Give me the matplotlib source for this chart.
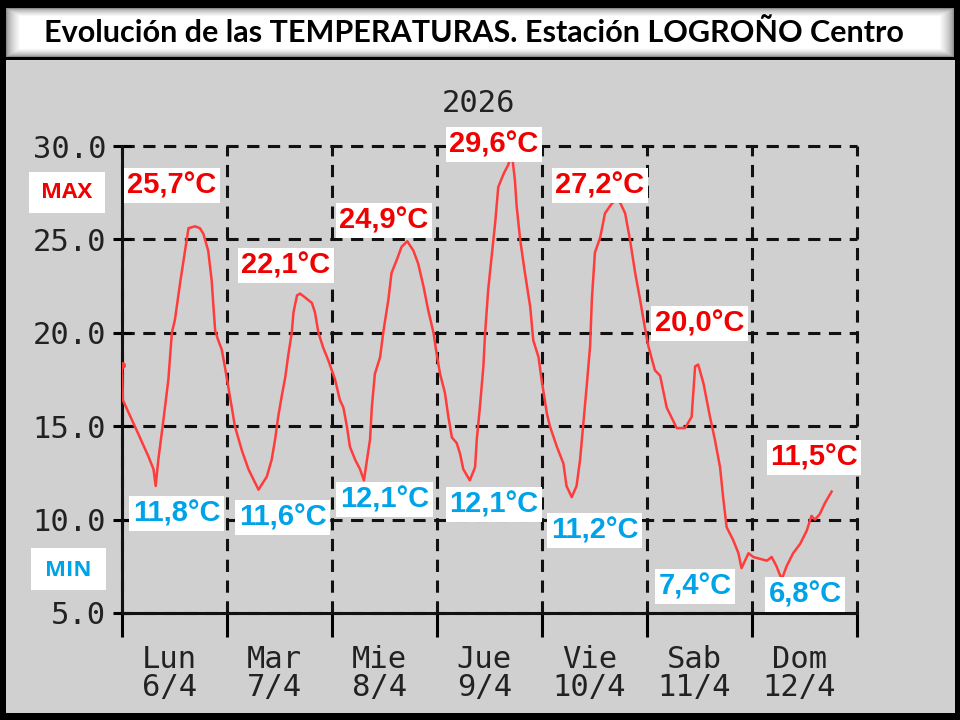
import numpy as np
import matplotlib
matplotlib.use("Agg")
import matplotlib.pyplot as plt
from matplotlib.patches import Rectangle

# hours since Lun 6/4 00:00 and temperature (C)
hours = [0.0, 0.2, 3.7, 6.0, 7.2, 7.7, 8.3, 9.4, 10.6, 11.4, 12.1, 13.3, 14.4, 15.2,
         16.7, 17.8, 18.6, 19.7, 20.5, 20.9, 21.3, 22.0, 22.8, 23.5,
         24.3, 25.1, 25.8, 27.4, 28.9, 31.2, 33.1, 34.2, 35.0, 35.7, 36.5, 37.3,
         38.0, 38.8, 39.2, 40.0, 40.7, 41.8, 43.4, 44.1, 44.9, 46.0, 47.2, 48.7,
         49.8, 50.6, 51.4, 52.1, 53.3, 54.4, 55.3, 56.7, 57.1, 57.8, 59.0, 59.7,
         60.9, 61.6, 62.8, 63.9, 65.2, 66.6, 67.7, 68.9, 70.0, 71.2, 71.9, 72.7,
         73.8, 74.6, 75.4, 76.5, 77.3, 78.0, 79.5, 80.7, 81.1, 81.8, 82.6, 83.0,
         83.7, 84.5, 85.3, 86.0, 87.2, 88.3, 89.1, 89.8, 90.2, 91.0, 92.1, 93.3,
         94.0, 95.2, 95.9, 97.1, 97.8, 99.4, 100.9, 101.6, 102.8, 103.9, 104.7,
         105.4, 106.2, 107.0, 107.4, 108.1, 109.3, 110.4, 111.9, 113.4, 115.0,
         116.1, 117.3, 118.4, 119.5, 120.3, 121.8, 123.0, 124.5, 126.8, 128.7,
         130.2, 131.0, 131.7, 132.9, 134.4, 135.5, 136.7, 137.4, 138.2, 139.7,
         140.9, 141.6, 142.4, 143.2, 144.3, 145.8, 147.4, 148.5, 149.6, 150.8,
         151.9, 153.4, 155.0, 156.5, 157.6, 158.4, 159.5, 160.7, 162.2]
temps = [18.3, 16.4, 14.6, 13.4, 12.7, 11.8, 13.2, 15.2, 17.5, 20.0, 20.7, 22.7, 24.4, 25.6,
         25.7, 25.6, 25.3, 24.4, 22.8, 21.4, 20.1, 19.6, 19.1, 18.2,
         17.1, 16.0, 15.0, 13.7, 12.7, 11.6, 12.3, 13.2, 14.3, 15.5, 16.6, 17.6,
         18.8, 20.0, 21.1, 22.0, 22.1, 21.9, 21.6, 21.1, 20.0, 19.2, 18.5, 17.5,
         16.4, 16.0, 15.0, 13.9, 13.2, 12.7, 12.1, 14.3, 16.0, 17.8, 18.7, 20.0,
         21.8, 23.2, 23.9, 24.6, 24.9, 24.4, 23.7, 22.5, 21.2, 20.0, 18.9, 17.8,
         16.8, 15.5, 14.4, 14.1, 13.5, 12.7, 12.1, 12.8, 14.3, 16.0, 18.2, 20.0,
         22.3, 24.1, 25.9, 27.8, 28.5, 29.0, 29.6, 28.2, 26.8, 25.0, 23.2, 21.4,
         19.6, 18.7, 17.5, 15.7, 15.0, 13.9, 13.0, 11.8, 11.2, 11.8, 13.2,
         15.0, 17.1, 19.3, 21.8, 24.3, 25.1, 26.4, 26.9, 27.2, 26.4,
         25.0, 23.2, 21.8, 20.3, 19.3, 18.0, 17.7, 16.0, 14.9, 14.9,
         15.5, 18.2, 18.3, 17.3, 15.5, 14.3, 12.8, 11.2, 9.6, 8.9,
         8.2, 7.4, 7.8, 8.2, 8.0, 7.9, 7.8, 8.0, 7.5, 6.8,
         7.5, 8.2, 8.7, 9.4, 10.2, 10.0, 10.3, 10.9, 11.5]

day_names = ["Lun", "Mar", "Mie", "Jue", "Vie", "Sab", "Dom"]
day_dates = ["6/4", "7/4", "8/4", "9/4", "10/4", "11/4", "12/4"]
y_ticks = [5.0, 10.0, 15.0, 20.0, 25.0, 30.0]

max_values = [25.7, 22.1, 24.9, 29.6, 27.2, 20.0, 11.5]
min_values = [11.8, 11.6, 12.1, 12.1, 11.2, 7.4, 6.8]

# where the value labels sit (hours, temperature)
max_label_pos = [(11.4, 27.9), (37.4, 23.6), (59.8, 26.0), (85.0, 30.1),
                 (109.2, 27.9), (132.0, 20.5), (158.2, 13.3)]
min_label_pos = [(12.5, 10.3), (36.7, 10.1), (60.0, 11.1), (85.0, 10.8),
                 (108.0, 9.4), (131.0, 6.4), (156.2, 6.0)]

W, H = 960, 720
RED = "#f00000"
BLUE = "#00a3e8"
LINE = "#ff3c3c"
MONO = "DejaVu Sans Mono"


def fx(x):
    return x / W


def fy(y):
    return 1 - y / H


def fmt(v):
    return f"{v:.1f}".replace(".", ",") + "\u00b0C"


fig = plt.figure(figsize=(9.6, 7.2), dpi=100, facecolor="black")

# grey panel behind the chart
fig.patches.append(Rectangle((fx(6), fy(713)), (955 - 6) / W, (713 - 60) / H,
                             transform=fig.transFigure, facecolor="#d0d0d0",
                             edgecolor="none", zorder=-5))

# title bar with soft grey edges
bax = fig.add_axes([fx(6), fy(57), (954 - 6) / W, (57 - 8) / H])
bw, bh = 948, 49
gx = np.minimum(np.arange(bw), bw - 1 - np.arange(bw)) / 14.0
gy = np.minimum(np.arange(bh), bh - 1 - np.arange(bh)) / 8.0
shade = np.clip(np.minimum(gx[None, :], gy[:, None]), 0, 1)
shade = 0.55 + 0.45 * shade ** 0.6
bax.imshow(shade, cmap="gray", vmin=0, vmax=1, aspect="auto", interpolation="bilinear")
bax.axis("off")
fig.text(fx(474), fy(33), "Evolución de las TEMPERATURAS. Estación LOGROÑO Centro",
         ha="center", va="center", fontsize=22, fontweight="bold", family="Lato",
         color="black")

fig.text(fx(478), fy(103), "2026", ha="center", va="center", fontsize=22,
         family=MONO, color="#222222")

ax = fig.add_axes([fx(122), fy(613), (857 - 122) / W, (613 - 146) / H])
ax.set_facecolor("none")
ax.plot(hours, temps, color=LINE, linewidth=1.8, zorder=3)
ax.plot(hours[0], temps[0], "o", color=LINE, markersize=4, zorder=3)

ax.set_xlim(0, 168)
ax.set_ylim(5, 30)
ax.set_xticks(range(0, 169, 24))
ax.set_xticklabels([])
ax.set_xticks([24 * i + 10.8 for i in range(7)], minor=True)
ax.set_xticklabels([f"{n}\n{d}" for n, d in zip(day_names, day_dates)], minor=True,
                   family=MONO, fontsize=22, color="#222222", linespacing=0.95)
ax.set_yticks(y_ticks)
ax.set_yticklabels([f"{v:.1f}" for v in y_ticks], family=MONO, fontsize=22,
                   color="#222222")

ax.grid(True, which="major", color="#111111", linestyle=(0, (4.0, 2.8)), linewidth=2.2)
for gl in ax.get_xgridlines() + ax.get_ygridlines():
    gl.set_clip_on(False)
for side in ["top", "right"]:
    ax.spines[side].set_visible(False)
for side in ["left", "bottom"]:
    ax.spines[side].set_linewidth(2.2)
    ax.spines[side].set_color("#111111")

ax.tick_params(axis="y", direction="inout", length=13, width=2.2, pad=5)
ax.tick_params(axis="x", which="major", direction="out", length=17, width=2.2)
ax.tick_params(axis="x", which="minor", length=0, pad=23)

box = dict(boxstyle="square,pad=0.12", facecolor="white", edgecolor="none")
for v, (hx, ty) in zip(max_values, max_label_pos):
    ax.text(hx, ty, fmt(v), color=RED, fontsize=21, fontweight="bold",
            family="Liberation Sans", ha="center", va="center", bbox=box,
            zorder=5, clip_on=False)
for v, (hx, ty) in zip(min_values, min_label_pos):
    ax.text(hx, ty, fmt(v), color=BLUE, fontsize=21, fontweight="bold",
            family="Liberation Sans", ha="center", va="center", bbox=box,
            zorder=5, clip_on=False)

# MAX / MIN tags on the left
fig.patches.append(Rectangle((fx(29), fy(213)), 76 / W, 41 / H, transform=fig.transFigure,
                             facecolor="white", edgecolor="none", zorder=1))
fig.text(fx(67), fy(193), "MAX", ha="center", va="center", color=RED, fontsize=16,
         fontweight="bold", family="Open Sans")
fig.patches.append(Rectangle((fx(31), fy(590)), 75 / W, 42 / H, transform=fig.transFigure,
                             facecolor="white", edgecolor="none", zorder=1))
fig.text(fx(68), fy(570), "MIN", ha="center", va="center", color=BLUE, fontsize=16,
         fontweight="bold", family="Open Sans")

fig.savefig("out.png", dpi=100, facecolor=fig.get_facecolor())
